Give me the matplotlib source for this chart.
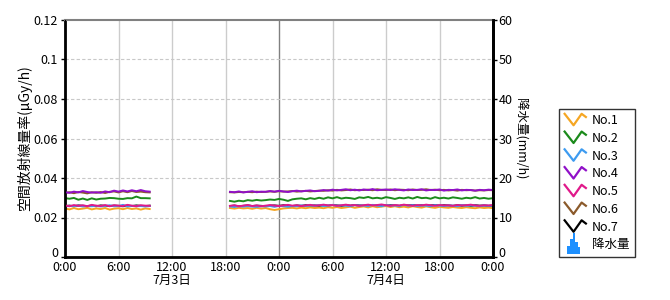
import numpy as np
import matplotlib
matplotlib.use("Agg")
import matplotlib.pyplot as plt
import matplotlib.transforms as mtrans
from matplotlib.lines import Line2D
from matplotlib.patches import Polygon, Patch
from matplotlib.legend_handler import HandlerBase

plt.rcParams['font.family'] = ['Noto Sans CJK JP', 'DejaVu Sans']

# hours since 7/3 0:00, 30 minute steps
hours1 = np.arange(0, 10, 0.5)
hours2 = np.arange(18.5, 48.01, 0.5)

names = ["No.1", "No.2", "No.3", "No.4", "No.5", "No.6", "No.7"]
colors = ["#f5a623", "#1b8a1b", "#3d9bf0", "#9010c8", "#e0198a", "#8b5a2b", "#000000"]
layer = [3, 5, 4, 7, 6, 2, 1]   # drawing order

# dose rate, 0.001 uGy/h
seg1 = {
    "No.1": [24.6, 24.1, 24.8, 24.2, 24.5, 24.9, 24.1, 24.6, 24.3, 24.8,
             24.0, 24.5, 24.7, 24.2, 24.8, 24.3, 24.6, 24.0, 24.6, 24.3],
    "No.2": [29.8, 29.5, 29.9, 29.0, 29.6, 28.9, 29.7, 29.1, 29.5, 29.6,
             29.9, 29.8, 29.5, 29.4, 29.8, 29.7, 30.6, 29.8, 29.8, 29.7],
    "No.3": [25.6, 25.9, 25.7, 26.0, 25.6, 25.8, 25.7, 25.9, 25.6, 25.8,
             26.2, 25.7, 25.8, 26.4, 25.6, 25.9, 25.7, 25.8, 25.6, 25.8],
    "No.4": [32.8, 32.5, 33.1, 32.7, 33.4, 32.9, 32.6, 32.8, 32.5, 33.2,
             32.8, 33.6, 33.1, 33.7, 33.2, 33.8, 33.3, 33.9, 33.3, 33.1],
    "No.5": [26.1, 25.7, 26.3, 25.9, 26.2, 25.7, 26.4, 26.0, 25.8, 26.3,
             25.7, 26.2, 26.0, 25.8, 26.4, 26.0, 25.7, 26.2, 26.0, 25.9],
    "No.6": [32.5, 32.8, 32.3, 32.9, 32.6, 32.2, 32.8, 32.5, 32.9, 32.4,
             33.0, 33.2, 32.7, 33.3, 32.8, 33.4, 32.9, 33.1, 32.8, 32.7],
    "No.7": [25.8, 26.0, 25.7, 26.1, 25.9, 25.8, 26.0, 25.7, 26.1, 25.9,
             25.8, 26.0, 25.9, 25.7, 26.0, 25.8, 26.1, 25.9, 25.8, 26.0],
}

seg2 = {
    "No.1": [24.8, 24.5, 24.9, 24.6, 24.8, 24.4, 24.9, 24.5, 24.8, 24.2,
             23.8, 24.2, 24.6, 24.8, 24.9, 24.6, 25.0, 24.7, 25.1, 24.8,
             25.0, 24.7, 25.2, 24.9, 25.3, 24.8, 25.1, 25.5, 24.9, 25.3,
             25.6, 25.1, 25.7, 25.2, 25.5, 25.8, 25.3, 25.7, 25.2, 25.5,
             25.1, 25.7, 25.3, 25.0, 25.6, 25.2, 24.9, 25.4, 25.1, 24.9,
             25.3, 25.0, 24.8, 25.2, 24.9, 24.7, 25.1, 24.8, 25.0, 24.7],
    "No.2": [28.4, 28.0, 28.5, 28.2, 28.8, 28.5, 28.9, 28.6, 28.8, 29.1,
             28.9, 29.4, 29.0, 28.4, 29.2, 29.5, 29.7, 29.2, 29.8, 29.4,
             30.0, 29.5, 30.2, 29.7, 30.3, 29.6, 30.0, 29.8, 29.4, 30.2,
             29.9, 30.4, 29.7, 30.0, 29.6, 30.3, 29.9, 29.4, 30.0, 29.7,
             30.2, 29.6, 30.4, 29.8, 30.0, 29.5, 30.3, 29.7, 30.0, 29.6,
             30.2, 29.9, 29.5, 30.0, 29.7, 30.3, 29.6, 29.9, 29.5, 29.8],
    "No.3": [25.6, 25.3, 25.7, 25.5, 25.8, 25.5, 25.4, 25.7, 25.6, 25.8,
             25.4, 25.9, 25.7, 25.5, 25.8, 25.7, 26.1, 25.8, 26.2, 25.9,
             26.3, 25.8, 26.0, 26.4, 25.9, 26.1, 26.0, 25.7, 26.3, 26.0,
             26.1, 25.8, 26.4, 26.0, 25.7, 26.3, 26.0, 26.1, 25.8, 26.4,
             26.0, 26.3, 25.8, 26.1, 26.0, 25.7, 26.3, 26.0, 25.8, 26.1,
             26.0, 25.7, 26.3, 25.9, 26.1, 26.0, 25.7, 26.1, 25.9, 26.0],
    "No.4": [33.0, 32.8, 33.2, 32.7, 33.0, 33.3, 32.8, 33.1, 33.0, 33.4,
             33.1, 33.5, 33.2, 32.9, 33.3, 33.6, 33.2, 33.5, 33.7, 33.3,
             33.5, 33.9, 33.6, 34.1, 33.7, 34.0, 34.3, 33.8, 34.1, 33.7,
             34.2, 33.9, 34.4, 33.8, 34.0, 34.2, 33.9, 34.3, 34.0, 33.7,
             34.2, 33.9, 34.0, 34.3, 33.7, 34.0, 33.9, 34.2, 33.6, 34.0,
             33.9, 34.2, 33.7, 34.0, 33.9, 33.6, 34.0, 33.8, 34.1, 33.9],
    "No.5": [25.9, 26.2, 25.7, 26.0, 26.3, 25.8, 26.1, 25.7, 26.0, 26.3,
             26.0, 25.8, 26.1, 26.4, 26.0, 26.2, 25.8, 26.1, 26.4, 26.0,
             26.2, 26.5, 26.1, 26.3, 25.9, 26.2, 26.5, 26.1, 26.3, 25.9,
             26.2, 26.5, 26.1, 26.3, 26.6, 26.2, 25.9, 26.3, 26.1, 26.5,
             26.2, 25.9, 26.3, 26.1, 26.5, 26.2, 25.9, 26.3, 26.1, 26.2,
             25.9, 26.3, 26.1, 26.2, 26.5, 26.1, 25.9, 26.2, 26.1, 26.3],
    "No.6": [32.8, 32.7, 32.9, 32.8, 33.0, 32.8, 33.1, 32.9, 33.0, 33.2,
             33.0, 33.3, 33.1, 33.2, 33.4, 33.1, 33.3, 33.5, 33.2, 33.4,
             33.6, 33.5, 33.8, 33.6, 34.0, 33.7, 33.9, 34.2, 33.8, 34.0,
             33.9, 34.1, 33.8, 34.3, 34.0, 33.9, 34.2, 33.8, 34.1, 34.0,
             33.8, 34.2, 33.9, 34.0, 34.3, 33.9, 34.1, 33.8, 34.0, 33.7,
             33.9, 33.6, 34.0, 33.8, 33.9, 33.6, 33.8, 33.7, 33.9, 33.8],
    "No.7": [25.8, 26.0, 25.7, 25.9, 26.1, 25.8, 26.0, 25.9, 25.7, 26.0,
             26.1, 25.9, 26.2, 26.0, 25.8, 26.1, 25.9, 26.2, 26.0, 26.1,
             25.9, 26.2, 26.0, 26.3, 26.1, 25.9, 26.2, 26.0, 26.3, 26.1,
             26.0, 26.2, 25.9, 26.1, 26.3, 26.0, 26.2, 26.1, 25.9, 26.2,
             26.1, 26.3, 26.0, 26.2, 25.9, 26.1, 26.3, 26.0, 26.2, 26.1,
             25.9, 26.2, 26.0, 26.1, 25.9, 26.2, 26.0, 26.1, 25.9, 26.0],
}

x_ticks = [0, 6, 12, 18, 24, 30, 36, 42, 48]
x_labels = ["0:00", "6:00", "12:00\n7月3日", "18:00", "0:00",
            "6:00", "12:00\n7月4日", "18:00", "0:00"]
y_ticks = [0, 0.02, 0.04, 0.06, 0.08, 0.1, 0.12]
y_labels = ["0", "0.02", "0.04", "0.06", "0.08", "0.1", "0.12"]
rain_ticks = [0, 10, 20, 30, 40, 50, 60]


class ZigzagHandler(HandlerBase):
    def create_artists(self, legend, orig_handle, xdescent, ydescent,
                       width, height, fontsize, trans):
        xs = np.array([0.0, 0.42, 0.8, 1.0]) * width - xdescent
        ys = np.array([1.15, -0.1, 1.15, 0.8]) * height - ydescent
        ln = Line2D(xs, ys, color=orig_handle.get_color(), lw=1.6, transform=trans)
        return [ln]


class RainHandler(HandlerBase):
    def create_artists(self, legend, orig_handle, xdescent, ydescent,
                       width, height, fontsize, trans):
        w = width * 0.62
        x0 = -xdescent + width * 0.12
        y0 = -ydescent - height * 0.55
        h = height * 2.3
        pts = [(x0, y0), (x0, y0 + 0.35 * h), (x0 + 0.22 * w, y0 + 0.35 * h),
               (x0 + 0.22 * w, y0 + 0.7 * h), (x0 + 0.42 * w, y0 + 0.7 * h),
               (x0 + 0.42 * w, y0 + h), (x0 + 0.6 * w, y0 + h),
               (x0 + 0.6 * w, y0 + 0.55 * h), (x0 + 0.8 * w, y0 + 0.55 * h),
               (x0 + 0.8 * w, y0 + 0.3 * h), (x0 + w, y0 + 0.3 * h), (x0 + w, y0)]
        p = Polygon(pts, closed=True, facecolor="#1e90ff", edgecolor="none",
                    transform=trans)
        return [p]


fig = plt.figure(figsize=(6.7, 3.0), dpi=100)
ax = fig.add_axes([65 / 670, 43 / 300, 428 / 670, 237 / 300])

handles = []
for name, c, z in zip(names, colors, layer):
    xs = np.concatenate([hours1, [np.nan], hours2])
    ys = np.concatenate([np.array(seg1[name]) / 1000, [np.nan], np.array(seg2[name]) / 1000])
    ln, = ax.plot(xs, ys, color=c, lw=1.4, zorder=2 + z * 0.1)
    handles.append(ln)

ax.set_xlim(0, 48)
ax.set_ylim(0, 0.12)
ax.set_xticks(x_ticks)
ax.set_xticklabels(x_labels, fontsize=9, linespacing=0.95)
ax.set_yticks(y_ticks)
ax.set_yticklabels(y_labels, fontsize=9)
ax.tick_params(axis="x", length=0, pad=3)
ax.tick_params(axis="y", length=3, width=1, pad=2)

for t in x_ticks[1:-1]:
    ax.axvline(t, color="#808080" if t == 24 else "#cccccc", lw=1, zorder=0)
for t in y_ticks[1:-1]:
    ax.axhline(t, color="#c8c8c8", lw=0.8, ls=(0, (3, 2)), zorder=0)

ax.spines["top"].set_color("#808080")
ax.spines["top"].set_linewidth(1.5)
for s in ["left", "bottom", "right"]:
    ax.spines[s].set_color("black")
    ax.spines[s].set_linewidth(2)

ax.set_ylabel("空間放射線量率(μGy/h)", fontsize=10, labelpad=1)

ax2 = ax.twinx()
ax2.set_ylim(0, 60)
ax2.set_yticks(rain_ticks)
ax2.set_yticklabels([str(v) for v in rain_ticks], fontsize=9)
ax2.tick_params(axis="y", length=3, width=1, pad=1)
ax2.spines["right"].set_linewidth(2)
ax2.spines["top"].set_visible(False)
ax2.set_ylabel("降水量(mm/h)", fontsize=9, rotation=-90, labelpad=10)

# lift the two "0" labels a little so they sit above the time labels
lift = mtrans.ScaledTranslation(0, 5 / 100, fig.dpi_scale_trans)
for lab in (ax.get_yticklabels()[0], ax2.get_yticklabels()[0]):
    lab.set_transform(lab.get_transform() + lift)

rain_handle = Patch(facecolor="#1e90ff")
hmap = {h: ZigzagHandler() for h in handles}
hmap[rain_handle] = RainHandler()
leg = fig.legend(handles + [rain_handle], names + ["降水量"], handler_map=hmap,
                 loc="lower left", bbox_to_anchor=(559 / 670, 43 / 300),
                 fontsize=9, frameon=True, fancybox=False, edgecolor="black",
                 handlelength=1.7, handleheight=0.75, handletextpad=0.5,
                 labelspacing=0.38, borderpad=0.45, borderaxespad=0)
leg.get_frame().set_linewidth(1)

fig.savefig("out.png", dpi=100)
